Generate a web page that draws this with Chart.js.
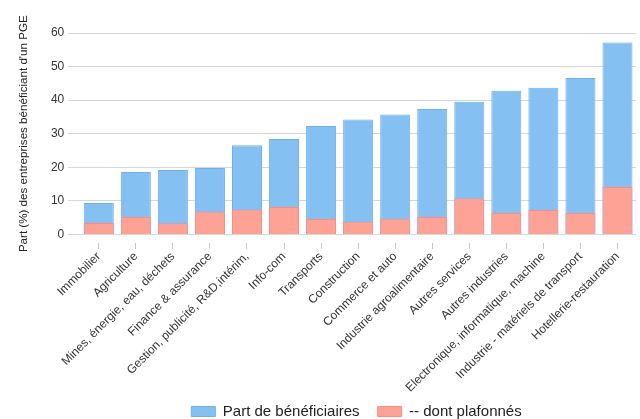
<!DOCTYPE html>
<html>
<head>
<meta charset="utf-8">
<script src="https://cdn.jsdelivr.net/npm/chart.js@4"></script>
<style>
  html, body { margin: 0; padding: 0; background: #fff; }
  #wrap { width: 640px; height: 419px; }
</style>
</head>
<body>
<div id="wrap"><canvas id="chart"></canvas></div>
<script>
// Data
const categories = [
    'Immobilier', 'Agriculture', 'Mines, énergie, eau, déchets', 'Finance & assurance',
    'Gestion, publicité, R&D,intérim,', 'Info-com', 'Transports', 'Construction',
    'Commerce et auto', 'Industrie agroalimentaire', 'Autres services', 'Autres industries',
    'Electronique, informatique, machine', 'Industrie - matériels de transport', 'Hotellerie-restauration'
];
const partBeneficiaires = [9.4, 18.6, 19.2, 19.8, 26.6, 28.4, 32.3, 34.2, 35.7, 37.4, 39.5, 42.8, 43.7, 46.6, 57.2];
const dontPlafonnes = [3.4, 5.2, 3.3, 6.8, 7.4, 8.2, 4.6, 3.8, 4.7, 5.2, 10.8, 6.4, 7.3, 6.4, 14.1];
const yTicks = [0, 10, 20, 30, 40, 50, 60];

const FONT = 'Liberation Sans, Arial, sans-serif';

// legend sits under the plot area, not the whole canvas: nudge it after layout
const legendNudge = {
    id: 'legendNudge',
    afterLayout(chart) {
        const lg = chart.legend;
        if (!lg) return;
        lg.top -= 9; lg.bottom -= 9;
        lg.left += 30; lg.right += 30;
    }
};

new Chart(document.getElementById('chart'), {
    type: 'bar',
    data: {
        labels: categories,
        datasets: [
            {
                label: 'Part de bénéficiaires',
                data: partBeneficiaires,
                backgroundColor: 'rgb(133,192,243)',
                borderColor: 'rgb(110,176,236)',
                borderWidth: 1,
                order: 1
            },
            {
                label: '-- dont plafonnés',
                data: dontPlafonnes,
                backgroundColor: 'rgb(255,162,150)',
                borderColor: 'rgb(255,140,128)',
                borderWidth: 1,
                order: 0
            }
        ]
    },
    plugins: [legendNudge],
    options: {
        responsive: true,
        maintainAspectRatio: false,
        animation: false,
        grouped: false,
        barPercentage: 0.81,
        categoryPercentage: 1,
        layout: { padding: { top: 33, right: 4, left: 17, bottom: -19 } },
        plugins: {
            legend: {
                position: 'bottom',
                labels: {
                    color: '#222',
                    font: { family: FONT, size: 15 },
                    boxWidth: 24,
                    boxHeight: 10,
                    padding: 18,
                    sort: (a, b) => a.datasetIndex - b.datasetIndex
                }
            },
            tooltip: { enabled: false }
        },
        scales: {
            x: {
                grid: {
                    offset: false,
                    drawOnChartArea: false,
                    color: '#c8c8c8',
                    tickLength: 15,
                    tickBorderDash: [6, 9],
                    tickBorderDashOffset: 6
                },
                border: { display: false },
                ticks: {
                    color: '#333',
                    font: { family: FONT, size: 12 },
                    maxRotation: 45,
                    minRotation: 45,
                    autoSkip: false,
                    padding: 0
                }
            },
            y: {
                min: 0,
                max: 60,
                afterBuildTicks: axis => { axis.ticks = yTicks.map(v => ({ value: v })); },
                grid: { color: '#d6d6d6', tickLength: 12 },
                border: { display: false },
                ticks: {
                    color: '#333',
                    font: { family: FONT, size: 12 },
                    padding: 4
                },
                title: {
                    display: true,
                    text: "Part (%) des entreprises bénéficiant d'un PGE",
                    color: '#222',
                    font: { family: FONT, size: 11.6 },
                    padding: { top: 0, bottom: 16 }
                }
            }
        }
    }
});
</script>
</body>
</html>
